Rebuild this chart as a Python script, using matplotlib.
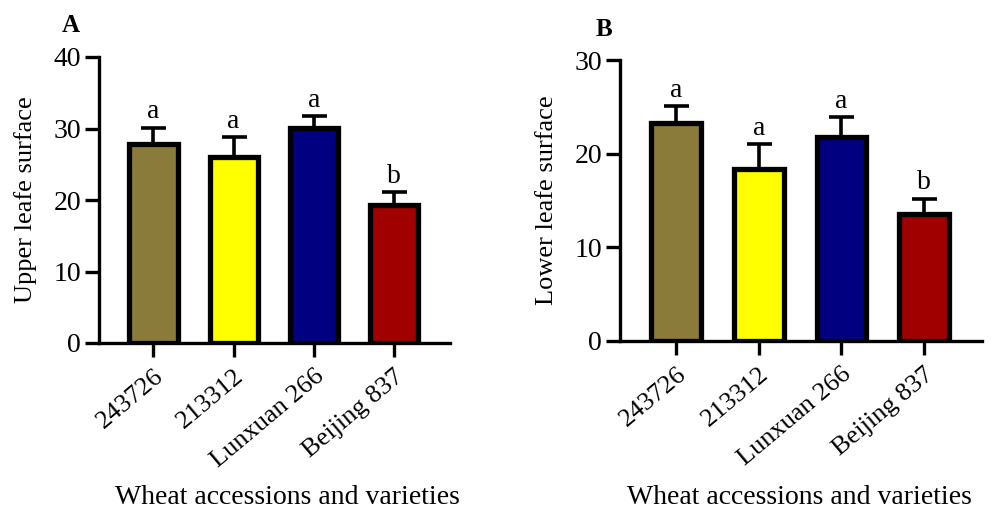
import numpy as np
import matplotlib.pyplot as plt

plt.rcParams['font.family'] = 'Liberation Serif'

varieties = ['243726', '213312', 'Lunxuan 266', 'Beijing 837']
colors = ['#8b7b3a', '#ffff00', '#000080', '#a00000']

upper_mean = [27.8, 26.0, 30.1, 19.3]
upper_err = [2.3, 2.8, 1.6, 1.8]
upper_sig = ['a', 'a', 'a', 'b']

lower_mean = [23.3, 18.4, 21.8, 13.6]
lower_err = [1.8, 2.6, 2.1, 1.6]
lower_sig = ['a', 'a', 'a', 'b']

fig = plt.figure(figsize=(9.95, 5.12), dpi=100)
W, H = 995, 512

def panel(rect, mean, err, sig, ylim, yticks, ylabel, letter, letter_xy, xlabel_x):
    l, t, r, b = rect
    ax = fig.add_axes([l / W, 1 - b / H, (r - l) / W, (b - t) / H])
    x = np.arange(len(mean))
    ax.errorbar(x, mean, yerr=[np.zeros(len(err)), err], fmt='none',
                ecolor='black', elinewidth=2.6, capsize=9, capthick=2.6, zorder=1)
    ax.bar(x, mean, width=0.6, color=colors, edgecolor='black', linewidth=3.8, zorder=2)
    for xi, m, e, s in zip(x, mean, err, sig):
        ax.text(xi, m + e + ylim[1] * 0.012, s, ha='center', va='bottom', fontsize=20)
    ax.set_xlim(-0.68, 3.7)
    ax.set_ylim(*ylim)
    ax.set_yticks(yticks)
    ax.set_xticks(x)
    ax.set_xticklabels(varieties, rotation=40, ha='right', rotation_mode='anchor', fontsize=19)
    ax.tick_params(axis='y', labelsize=20, width=2.4, length=10, pad=3)
    ax.tick_params(axis='x', width=2.4, length=10, pad=6)
    for s in ['top', 'right']:
        ax.spines[s].set_visible(False)
    for s in ['left', 'bottom']:
        ax.spines[s].set_linewidth(2.4)
    ax.set_ylabel(ylabel, fontsize=19, labelpad=12)
    fig.text(letter_xy[0] / W, 1 - letter_xy[1] / H, letter, fontsize=18,
             fontweight='bold', ha='center', va='center')
    fig.text(xlabel_x / W, 1 - 497 / H, 'Wheat accessions and varieties',
             fontsize=20, ha='center', va='center')
    return ax

panel((99, 57, 450, 343), upper_mean, upper_err, upper_sig, (0, 40), [0, 10, 20, 30, 40],
      'Upper leafe surface', 'A', (71, 26), 287)
panel((620, 60, 982, 341), lower_mean, lower_err, lower_sig, (0, 30), [0, 10, 20, 30],
      'Lower leafe surface', 'B', (604, 30), 799)

fig.savefig('out.png', dpi=100)
